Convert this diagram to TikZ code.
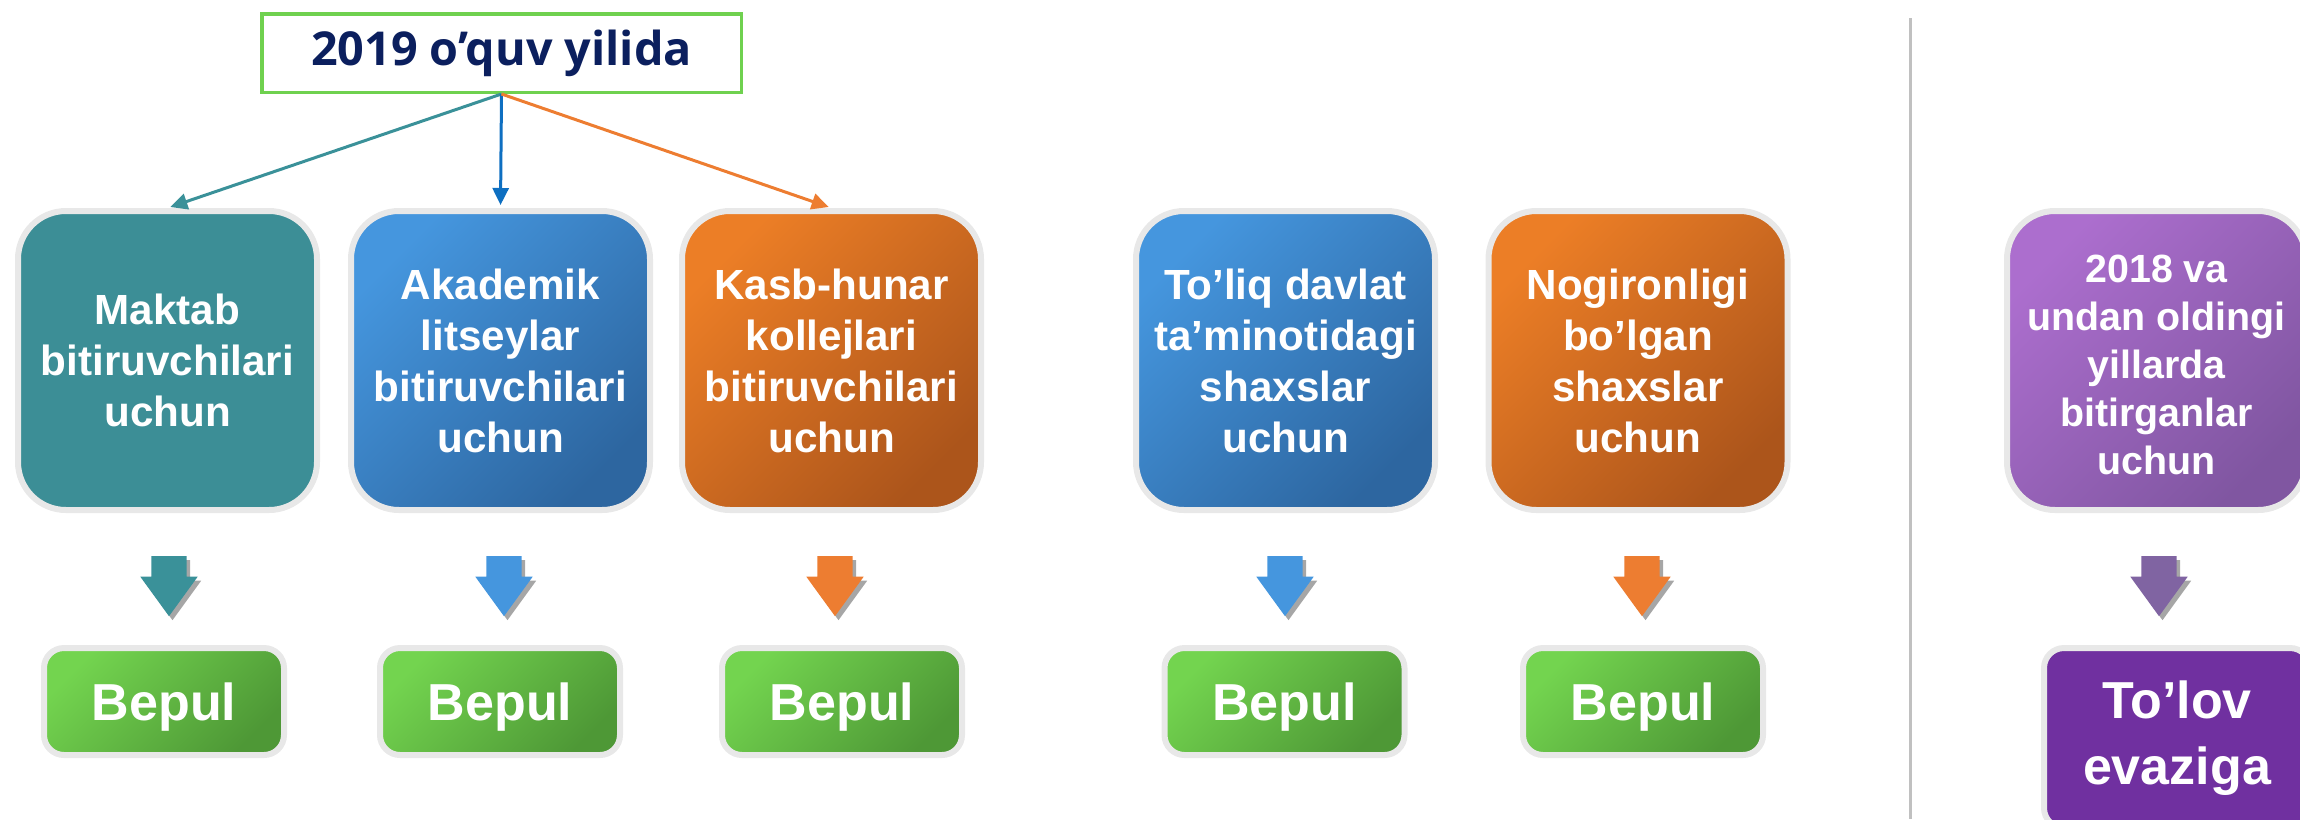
\documentclass[tikz,border=0pt]{standalone}
\usepackage{fontspec}
\setmainfont{Liberation Sans}
\newfontfamily\titlefont{Open Sans}
\usepackage{xcolor}
\usetikzlibrary{shapes,arrows,arrows.meta,shadows,positioning}

\definecolor{tealbox}{HTML}{3C8E96}
\definecolor{bluelight}{HTML}{4596DE}
\definecolor{bluedark}{HTML}{2D66A0}
\definecolor{orangelight}{HTML}{EC7E26}
\definecolor{orangedark}{HTML}{AC551B}
\definecolor{purplelight}{HTML}{AC6ECE}
\definecolor{purpledark}{HTML}{8056A1}
\definecolor{greenlight}{HTML}{73D44F}
\definecolor{greendark}{HTML}{4E9836}
\definecolor{navytext}{HTML}{0B1F5E}
\definecolor{titlegreen}{HTML}{6FD14F}
\definecolor{edgegray}{HTML}{E8E8E8}
\definecolor{dividergray}{HTML}{C0C0C0}
\definecolor{arrowteal}{HTML}{3A9199}
\definecolor{arrowblue}{HTML}{0E6FC1}
\definecolor{arroworange}{HTML}{ED7D31}
\definecolor{arrowpurple}{HTML}{8064A2}
\definecolor{paidpurple}{HTML}{7030A0}

\tikzset{
    catbox/.style={rectangle, rounded corners=0.48cm, draw=edgegray, line width=0.06cm,
        minimum width=2.99cm, minimum height=2.99cm, inner sep=0pt, align=center,
        text=white, font=\bfseries\fontsize{12}{14.5}\selectfont},
    resultbox/.style={rectangle, rounded corners=0.2cm, draw=edgegray, line width=0.06cm,
        minimum width=2.4cm, minimum height=1.07cm, inner sep=0pt, align=center,
        text=white, font=\bfseries\fontsize{14.8}{18.8}\selectfont},
    freebox/.style={resultbox, text depth=0pt, top color=greenlight, bottom color=greendark, shading angle=45},
    downarrow/.style={single arrow, shape border rotate=270, draw=none,
        inner xsep=0.17cm, inner ysep=0pt, minimum height=0.6cm,
        single arrow head extend=0.11cm, single arrow tip angle=72,
        drop shadow={shadow xshift=0.035cm, shadow yshift=-0.04cm, fill=gray!70, opacity=1}},
    link/.style={line width=0.03cm, -{Triangle[length=0.17cm, width=0.16cm]}, shorten >=0.03cm}
}

\begin{document}
\begin{tikzpicture}
    \useasboundingbox (0,0) rectangle (23,-8.19);

    % Year box
    \node[rectangle, draw=titlegreen, line width=0.035cm, minimum width=4.795cm,
        minimum height=0.785cm, text=navytext, font=\titlefont\bfseries\fontsize{13.3}{16}\selectfont]
        (year) at (5.015,-0.53) {2019 o’quv yilida};

    % Groups
    \node[catbox, fill=tealbox] (school) at (1.675,-3.605) {Maktab\\bitiruvchilari\\uchun};
    \node[catbox, top color=bluelight, bottom color=bluedark, shading angle=45]
        (lyceum) at (5.005,-3.605) {Akademik\\litseylar\\bitiruvchilari\\uchun};
    \node[catbox, top color=orangelight, bottom color=orangedark, shading angle=45]
        (college) at (8.315,-3.605) {Kasb-hunar\\kollejlari\\bitiruvchilari\\uchun};
    \node[catbox, top color=bluelight, bottom color=bluedark, shading angle=45]
        (state) at (12.855,-3.605) {To’liq davlat\\ta’minotidagi\\shaxslar\\uchun};
    \node[catbox, top color=orangelight, bottom color=orangedark, shading angle=45]
        (disabled) at (16.38,-3.605) {Nogironligi\\bo’lgan\\shaxslar\\uchun};
    \node[catbox, top color=purplelight, bottom color=purpledark, shading angle=45,
        font=\bfseries\fontsize{11.2}{13.7}\selectfont]
        (earlier) at (21.565,-3.605) {\\[-0.12cm]2018 va\\undan oldingi\\yillarda\\bitirganlar\\uchun};

    \draw[link, arrowteal] (year.south) -- (school.north);
    \draw[link, arrowblue] (year.south) -- (lyceum.north);
    \draw[link, arroworange] (year.south) -- (college.north);

    % Block arrows
    \node[downarrow, fill=arrowteal] (down1) at (1.69,-5.74) {};
    \node[downarrow, fill=bluelight] (down2) at (5.04,-5.74) {};
    \node[downarrow, fill=arroworange] (down3) at (8.35,-5.74) {};
    \node[downarrow, fill=bluelight] (down4) at (12.85,-5.74) {};
    \node[downarrow, fill=arroworange] (down5) at (16.42,-5.74) {};
    \node[downarrow, fill=arrowpurple] (down6) at (21.59,-5.74) {};

    % Results
    \node[freebox] (free1) at (1.64,-7.015) {Bepul};
    \node[freebox] (free2) at (5.0,-7.015) {Bepul};
    \node[freebox] (free3) at (8.42,-7.015) {Bepul};
    \node[freebox] (free4) at (12.845,-7.015) {Bepul};
    \node[freebox] (free5) at (16.43,-7.015) {Bepul};
    \node[resultbox, fill=paidpurple, minimum width=2.66cm, minimum height=1.8cm]
        (paid) at (21.77,-7.38) {To’lov\\evaziga};

    % Divider
    \coordinate (divtop) at (19.1,-0.18);
    \coordinate (divbot) at (19.1,-8.19);
    \draw[dividergray, line width=0.03cm] (divtop) -- (divbot);
\end{tikzpicture}
\end{document}
